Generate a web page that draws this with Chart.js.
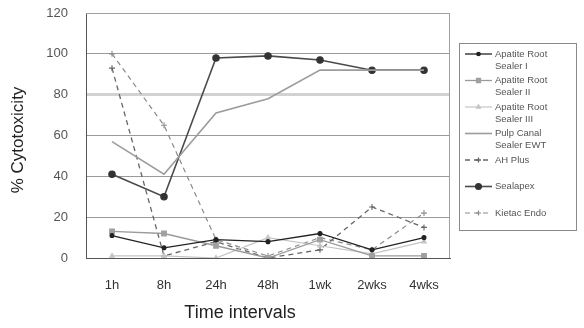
<!DOCTYPE html>
<html>
<head>
<meta charset="utf-8">
<script src="https://cdn.jsdelivr.net/npm/chart.js@4/dist/chart.umd.min.js"></script>
<style>
  html, body { margin: 0; padding: 0; background: #fff; }
  #wrap { width: 584px; height: 328px; }
</style>
</head>
<body>
<div id="wrap"><canvas id="c" width="584" height="328"></canvas></div>
<script>
// ---- data ----
const categories = ['1h', '8h', '24h', '48h', '1wk', '2wks', '4wks'];
const yTickValues = [0, 20, 40, 60, 80, 100, 120];
const seriesNames = ['Apatite Root Sealer I', 'Apatite Root Sealer II', 'Apatite Root Sealer III',
                     'Pulp Canal Sealer EWT', 'AH Plus', 'Sealapex', 'Kietac Endo'];
const legendLines = [['Apatite Root', 'Sealer I'], ['Apatite Root', 'Sealer II'], ['Apatite Root', 'Sealer III'],
                     ['Pulp Canal', 'Sealer EWT'], ['AH Plus'], ['Sealapex'], ['Kietac Endo']];
const apatiteI   = [11, 5, 9, 8, 12, 4, 10];
const apatiteII  = [13, 12, 6, 0, 9, 1, 1];
const apatiteIII = [1, 1, 0, 10, 6, 2, 8];
const pulpCanal  = [57, 41, 71, 78, 92, 92, 92];
const ahPlus     = [93, 1, 8, 0, 4, 25, 15];
const sealapex   = [41, 30, 98, 99, 97, 92, 92];
const kietac     = [100, 65, 9, 1, 10, 4, 22];
const xTitle = 'Time intervals';
const yTitle = '% Cytotoxicity';

const FONT = '"Liberation Sans", Arial, sans-serif';

const styles = [
  { borderColor: '#222', backgroundColor: '#222', pointStyle: 'circle', pointRadius: 2, borderWidth: 1.3 },
  { borderColor: '#9a9a9a', backgroundColor: '#a0a0a0', pointStyle: 'rect', pointRadius: 3.3, borderWidth: 1.3 },
  { borderColor: '#c4c4c4', backgroundColor: '#c4c4c4', pointStyle: 'triangle', pointRadius: 2.6, borderWidth: 1.2 },
  { borderColor: '#9c9c9c', backgroundColor: '#9c9c9c', pointStyle: 'circle', pointRadius: 0, borderWidth: 1.6 },
  { borderColor: '#666', backgroundColor: '#666', pointStyle: 'cross', pointRadius: 3, borderWidth: 1.3, borderDash: [5, 4] },
  { borderColor: '#4a4a4a', backgroundColor: '#333', pointStyle: 'circle', pointRadius: 3.2, borderWidth: 1.6 },
  { borderColor: '#8a8a8a', backgroundColor: '#8a8a8a', pointStyle: 'cross', pointRadius: 3, borderWidth: 1.2, borderDash: [5, 4] }
];
const seriesData = [apatiteI, apatiteII, apatiteIII, pulpCanal, ahPlus, sealapex, kietac];

const datasets = seriesData.map((d, i) => Object.assign({
  label: seriesNames[i],
  data: d,
  tension: 0,
  fill: false,
  pointBorderColor: styles[i].backgroundColor,
  pointBackgroundColor: styles[i].backgroundColor,
  pointBorderWidth: 1.1
}, styles[i]));

const decorPlugin = {
  id: 'decor',
  afterDraw(chart) {
    const ctx = chart.ctx;
    const area = chart.chartArea;
    ctx.save();
    // plot frame (top/right)
    ctx.strokeStyle = '#a0a0a0';
    ctx.lineWidth = 1;
    ctx.beginPath();
    ctx.moveTo(area.left, area.top + 0.5);
    ctx.lineTo(area.right - 0.5, area.top + 0.5);
    ctx.lineTo(area.right - 0.5, area.bottom);
    ctx.stroke();

    // axis titles
    ctx.fillStyle = '#222';
    ctx.font = '18px ' + FONT;
    ctx.textAlign = 'center';
    ctx.textBaseline = 'middle';
    ctx.fillText(xTitle, 240, 313);
    ctx.save();
    ctx.translate(18, 140);
    ctx.rotate(-Math.PI / 2);
    ctx.font = '17px ' + FONT;
    ctx.fillText(yTitle, 0, 0);
    ctx.restore();

    // legend box
    const lx = 459, ly = 43, lw = 117, lh = 187;
    ctx.strokeStyle = '#8a8a8a';
    ctx.lineWidth = 1;
    ctx.strokeRect(lx + 0.5, ly + 0.5, lw, lh);
    ctx.font = '9.5px ' + FONT;
    ctx.textAlign = 'left';
    ctx.textBaseline = 'middle';
    chart.data.datasets.forEach((ds, i) => {
      const y = 54 + i * 26.5;
      ctx.save();
      ctx.strokeStyle = ds.borderColor;
      ctx.lineWidth = ds.borderWidth;
      ctx.setLineDash(ds.borderDash || []);
      ctx.beginPath();
      ctx.moveTo(465, y);
      ctx.lineTo(492, y);
      ctx.stroke();
      ctx.setLineDash([]);
      if (ds.pointRadius > 0 && Chart.helpers && Chart.helpers.drawPoint) {
        ctx.fillStyle = ds.backgroundColor;
        ctx.strokeStyle = ds.backgroundColor;
        Chart.helpers.drawPoint(ctx, {
          pointStyle: ds.pointStyle,
          radius: ds.pointRadius * 0.85,
          rotation: 0,
          borderWidth: 1.1
        }, 478.5, y);
      }
      ctx.restore();
      ctx.fillStyle = '#555';
      legendLines[i].forEach((t, k) => ctx.fillText(t, 495, y + k * 12));
    });
    ctx.restore();
  }
};

new Chart(document.getElementById('c'), {
  type: 'line',
  data: { labels: categories, datasets },
  options: {
    responsive: false,
    animation: false,
    devicePixelRatio: 1,
    layout: { padding: { left: 0, right: 134, top: 13, bottom: 0 } },
    plugins: { legend: { display: false }, tooltip: { enabled: false } },
    scales: {
      x: {
        offset: true,
        grid: { display: false, drawTicks: false },
        border: { display: true, color: '#555', width: 1 },
        ticks: { padding: 20, color: '#333', font: { family: FONT, size: 13 }, maxRotation: 0, autoSkip: false },
        afterFit(scale) { scale.height = 70; scale.paddingTop = 0; }
      },
      y: {
        min: 0, max: 120,
        afterBuildTicks(scale) { scale.ticks = yTickValues.map(v => ({ value: v })); },
        grid: {
          drawTicks: false,
          color: (c) => (c.tick && c.tick.value === 80 ? '#d2d2d2' : '#9a9a9a'),
          lineWidth: (c) => (c.tick && c.tick.value === 80 ? 3 : 1)
        },
        border: { display: true, color: '#555', width: 1 },
        ticks: { padding: 18, color: '#555', font: { family: FONT, size: 13 } },
        afterFit(scale) { scale.width = 86; scale.paddingTop = 0; scale.paddingBottom = 0; }
      }
    }
  },
  plugins: [decorPlugin]
});
</script>
</body>
</html>
